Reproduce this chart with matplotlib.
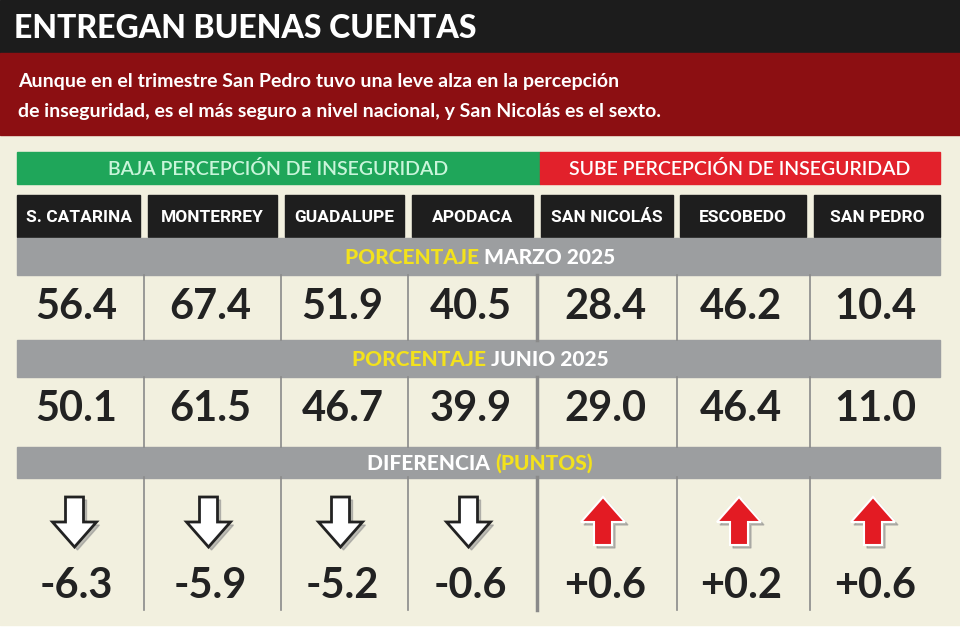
import matplotlib
matplotlib.use("Agg")
import matplotlib.pyplot as plt
from matplotlib.patches import Rectangle, Polygon
from matplotlib.offsetbox import TextArea, HPacker, AnnotationBbox
from matplotlib import font_manager as fm

municipios = ["S. CATARINA", "MONTERREY", "GUADALUPE", "APODACA", "SAN NICOLÁS", "ESCOBEDO", "SAN PEDRO"]
marzo_2025 = [56.4, 67.4, 51.9, 40.5, 28.4, 46.2, 10.4]
junio_2025 = [50.1, 61.5, 46.7, 39.9, 29.0, 46.4, 11.0]
diferencia = ["-6.3", "-5.9", "-5.2", "-0.6", "+0.6", "+0.2", "+0.6"]

names = {f.name for f in fm.fontManager.ttflist}
main = "Lato" if "Lato" in names else "DejaVu Sans"
narrow = "Roboto" if "Roboto" in names else main

fig = plt.figure(figsize=(9.6, 6.4), dpi=100)
ax = fig.add_axes([0, 0, 1, 1])
ax.set_xlim(0, 960); ax.set_ylim(640, 0); ax.axis("off")

CREAM = "#f2f0df"; GRAY = "#9c9ea0"; YEL = "#f3e21c"; DARK = "#222222"
ax.add_patch(Rectangle((0, 0), 960, 640, color="white"))
ax.add_patch(Rectangle((0, 135), 960, 490, color=CREAM))
ax.add_patch(Rectangle((0, 0), 960, 53, color="#1c1c1c"))
ax.add_patch(Rectangle((0, 53), 960, 82, color="#8c0f12"))
ax.text(14, 29, "ENTREGAN BUENAS CUENTAS", color="white", fontsize=23, fontweight="heavy", family=main, va="center")
ax.text(18, 81, "Aunque en el trimestre San Pedro tuvo una leve alza en la percepción", color="white", fontsize=14, family=main, fontweight="bold", va="center")
ax.text(18, 111, "de inseguridad, es el más seguro a nivel nacional, y San Nicolás es el sexto.", color="white", fontsize=14, family=main, fontweight="bold", va="center")

ax.add_patch(Rectangle((17, 152), 523, 32, color="#1fa65a"))
ax.add_patch(Rectangle((540, 152), 400, 32, color="#e2212b"))
ax.text(278, 169, "BAJA PERCEPCIÓN DE INSEGURIDAD", color="#c9f5da", fontsize=14, family=main, fontweight="semibold", ha="center", va="center")
ax.text(740, 169, "SUBE PERCEPCIÓN DE INSEGURIDAD", color="white", fontsize=14, family=main, fontweight="semibold", ha="center", va="center")

lefts = [17, 148, 285, 412, 541, 680, 814]
rights = [140, 277, 404, 533, 673, 806, 940]
for i, m in enumerate(municipios):
    ax.add_patch(Rectangle((lefts[i], 195), rights[i] - lefts[i], 42, color="#1e1e1e"))
    cx = (lefts[i] + rights[i]) / 2
    ax.text(cx, 217, m, color="white", fontsize=12.5, family=narrow, fontweight="bold", ha="center", va="center")

def band(y0, h, parts):
    ax.add_patch(Rectangle((17, y0), 923, h, color=GRAY))
    boxes = [TextArea(t, textprops=dict(color=c, fontsize=15, fontweight="heavy", family=main)) for t, c in parts]
    pk = HPacker(children=boxes, align="center", pad=0, sep=0)
    ab = AnnotationBbox(pk, (480, y0 + h / 2 + 1), frameon=False, box_alignment=(0.5, 0.5))
    ax.add_artist(ab)

band(238, 37, [("PORCENTAJE ", YEL), ("MARZO 2025", "white")])
band(340, 37, [("PORCENTAJE ", YEL), ("JUNIO 2025", "white")])
band(447, 31, [("DIFERENCIA ", "white"), ("(PUNTOS)", YEL)])

centers = [(lefts[i] + rights[i]) / 2 for i in range(7)]
for i in range(7):
    kw = dict(fontsize=30, fontweight="bold", family=main, color=DARK, ha="center", va="center")
    ax.text(centers[i] - 2, 307, f"{marzo_2025[i]:.1f}", **kw)
    ax.text(centers[i] - 2, 409, f"{junio_2025[i]:.1f}", **kw)
    ax.text(centers[i] - 2, 586, diferencia[i], **kw)
    cx = centers[i] - 4
    if diferencia[i].startswith("-"):
        pts = [(cx - 9, 497), (cx + 9, 497), (cx + 9, 522), (cx + 22, 522), (cx, 547), (cx - 22, 522), (cx - 9, 522)]
        sh = [(x + 3, y + 3) for x, y in pts]
        ax.add_patch(Polygon(sh, closed=True, color="#888888", alpha=0.5))
        ax.add_patch(Polygon(pts, closed=True, facecolor="white", edgecolor="#222222", lw=2))
    else:
        pts = [(cx - 9, 545), (cx + 9, 545), (cx + 9, 522), (cx + 22, 522), (cx, 497), (cx - 22, 522), (cx - 9, 522)]
        sh = [(x + 3, y + 3) for x, y in pts]
        ax.add_patch(Polygon(sh, closed=True, color="#888888", alpha=0.5))
        ax.add_patch(Polygon(pts, closed=True, facecolor="#e31b23", edgecolor="white", lw=1.5))

for i in range(6):
    x = (rights[i] + lefts[i + 1]) / 2
    for y0, y1 in [(275, 340), (377, 447), (477, 610)]:
        ax.plot([x, x], [y0, y1], color="#8a8a8a", lw=1.2 if i != 3 else 2.5)

fig.savefig("out.png", dpi=100)
